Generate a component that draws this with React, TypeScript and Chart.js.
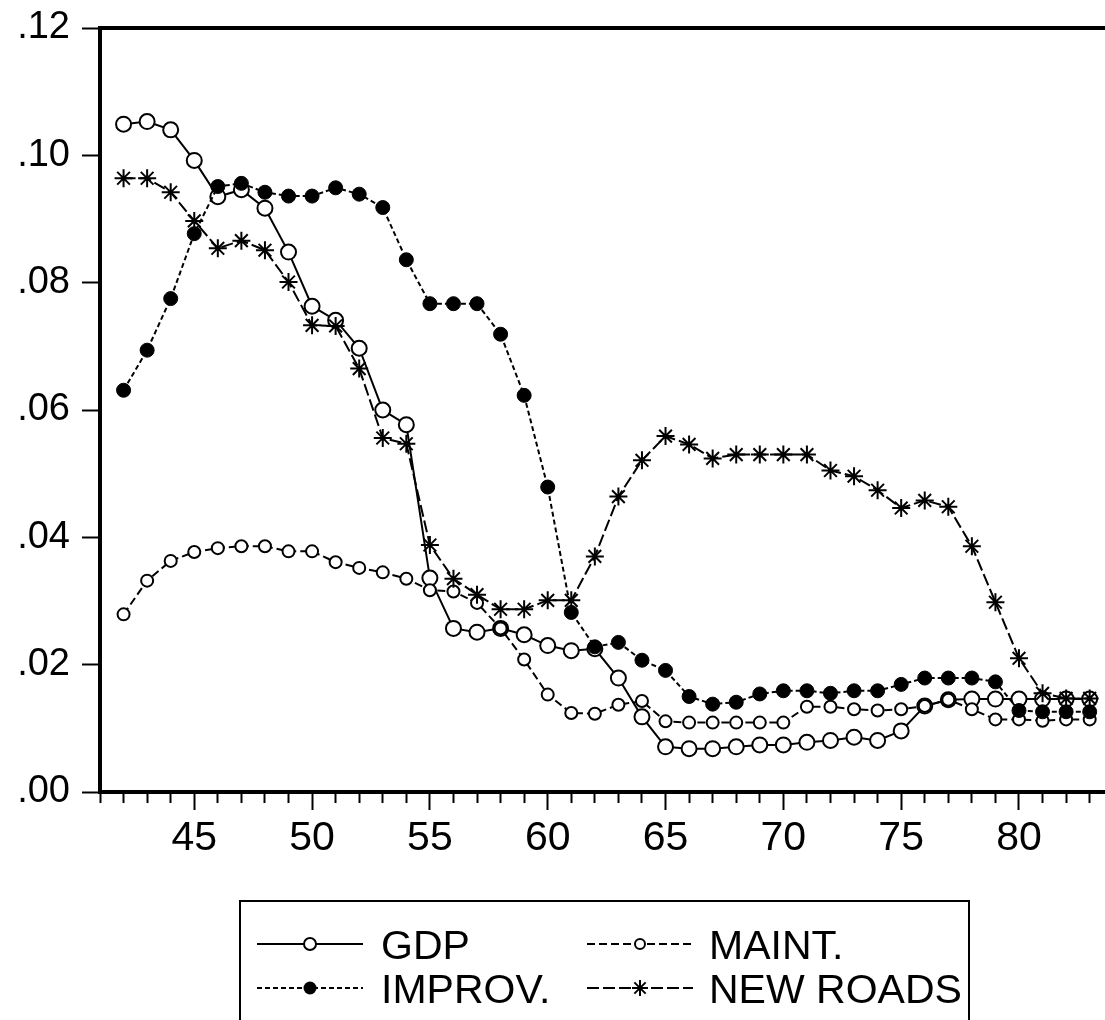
import React, { useEffect, useRef } from 'react';
import { Chart, registerables } from 'chart.js';

Chart.register(...registerables);

const years = [42, 43, 44, 45, 46, 47, 48, 49, 50, 51, 52, 53, 54, 55, 56, 57, 58, 59, 60, 61, 62, 63, 64, 65, 66, 67, 68, 69, 70, 71, 72, 73, 74, 75, 76, 77, 78, 79, 80, 81, 82, 83];

const gdp = [0.1049, 0.1053, 0.1040, 0.0992, 0.0935, 0.0946, 0.0917, 0.0848, 0.0763, 0.0741, 0.0697, 0.0600, 0.0577, 0.0336, 0.0257, 0.0251, 0.0257, 0.0247, 0.0230, 0.0222, 0.0225, 0.0179, 0.0118, 0.0071, 0.0068, 0.0068, 0.0071, 0.0074, 0.0074, 0.0078, 0.0081, 0.0086, 0.0081, 0.0096, 0.0135, 0.0145, 0.0146, 0.0146, 0.0146, 0.0146, 0.0146, 0.0146];

const maint = [0.0279, 0.0332, 0.0363, 0.0377, 0.0383, 0.0386, 0.0386, 0.0378, 0.0378, 0.0361, 0.0352, 0.0345, 0.0335, 0.0317, 0.0315, 0.0297, 0.0257, 0.0208, 0.0153, 0.0124, 0.0123, 0.0137, 0.0143, 0.0111, 0.0109, 0.0109, 0.0109, 0.0109, 0.0109, 0.0134, 0.0134, 0.0130, 0.0128, 0.0130, 0.0135, 0.0145, 0.0130, 0.0114, 0.0114, 0.0112, 0.0114, 0.0114];

const improv = [0.0631, 0.0694, 0.0775, 0.0877, 0.0951, 0.0956, 0.0942, 0.0936, 0.0936, 0.0949, 0.0939, 0.0918, 0.0836, 0.0767, 0.0767, 0.0767, 0.0719, 0.0623, 0.0479, 0.0282, 0.0228, 0.0235, 0.0207, 0.0191, 0.0150, 0.0138, 0.0141, 0.0154, 0.0159, 0.0159, 0.0155, 0.0159, 0.0159, 0.0169, 0.0179, 0.0179, 0.0179, 0.0173, 0.0128, 0.0126, 0.0126, 0.0126];

const newRoads = [0.0964, 0.0964, 0.0942, 0.0897, 0.0854, 0.0866, 0.0851, 0.0801, 0.0733, 0.0732, 0.0665, 0.0556, 0.0547, 0.0388, 0.0335, 0.0310, 0.0287, 0.0287, 0.0301, 0.0301, 0.0370, 0.0464, 0.0521, 0.0559, 0.0546, 0.0524, 0.0530, 0.0530, 0.0530, 0.0530, 0.0505, 0.0496, 0.0474, 0.0446, 0.0458, 0.0448, 0.0386, 0.0298, 0.0210, 0.0155, 0.0147, 0.0147];

const seriesLabels = ['GDP', 'MAINT.', 'IMPROV.', 'NEW ROADS'];

const FONT = "'Liberation Sans', Arial, Helvetica, sans-serif";

const DASH_MAINT = [8, 4];
const DASH_IMPROV = [5, 3];
const DASH_NEW = [12, 4];

const toPoints = (vals: number[]) => years.map((x, i) => ({ x, y: vals[i] }));

function drawMarker(ctx: CanvasRenderingContext2D, kind: string, x: number, y: number, r: number) {
  ctx.save();
  ctx.setLineDash([]);
  ctx.lineWidth = 2;
  ctx.strokeStyle = '#000';
  if (kind === 'open') {
    ctx.fillStyle = '#fff';
    ctx.beginPath();
    ctx.arc(x, y, r, 0, Math.PI * 2);
    ctx.fill();
    ctx.stroke();
  } else if (kind === 'filled') {
    ctx.fillStyle = '#000';
    ctx.beginPath();
    ctx.arc(x, y, r, 0, Math.PI * 2);
    ctx.fill();
  } else {
    ctx.beginPath();
    for (let k = 0; k < 4; k++) {
      const a = (k * Math.PI) / 4;
      ctx.moveTo(x - Math.cos(a) * r, y - Math.sin(a) * r);
      ctx.lineTo(x + Math.cos(a) * r, y + Math.sin(a) * r);
    }
    ctx.stroke();
  }
  ctx.restore();
}

const framePlugin = {
  id: 'frameAndLegend',
  afterDraw(chart: any) {
    const ctx: CanvasRenderingContext2D = chart.ctx;
    const { left, right, top } = chart.chartArea;
    ctx.save();
    ctx.strokeStyle = '#000';
    ctx.lineWidth = 4;
    ctx.beginPath();
    ctx.moveTo(left - 2, top);
    ctx.lineTo(right, top);
    ctx.stroke();

    // legend box
    ctx.lineWidth = 2;
    ctx.strokeRect(240, 901, 729, 160);

    const rows = [
      { label: seriesLabels[0], dash: [] as number[], kind: 'open', r: 6, sx: 257, tx: 381, y: 944 },
      { label: seriesLabels[1], dash: DASH_MAINT, kind: 'open', r: 5, sx: 587, tx: 709, y: 944 },
      { label: seriesLabels[2], dash: DASH_IMPROV, kind: 'filled', r: 6.5, sx: 257, tx: 381, y: 988 },
      { label: seriesLabels[3], dash: DASH_NEW, kind: 'star', r: 8, sx: 587, tx: 709, y: 988 },
    ];
    ctx.font = `41px ${FONT}`;
    ctx.fillStyle = '#000';
    ctx.textBaseline = 'alphabetic';
    ctx.textAlign = 'left';
    rows.forEach((row) => {
      ctx.save();
      ctx.lineWidth = 2;
      ctx.setLineDash(row.dash);
      ctx.beginPath();
      ctx.moveTo(row.sx, row.y);
      ctx.lineTo(row.sx + 106, row.y);
      ctx.stroke();
      ctx.restore();
      drawMarker(ctx, row.kind, row.sx + 53, row.y, row.r);
      ctx.fillText(row.label, row.tx, row.y + 15);
    });
    ctx.restore();
  },
};

export default function App() {
  const canvasRef = useRef<HTMLCanvasElement | null>(null);

  useEffect(() => {
    if (!canvasRef.current) return;
    const chart = new Chart(canvasRef.current, {
      type: 'line',
      data: {
        datasets: [
          {
            label: seriesLabels[0],
            data: toPoints(gdp),
            borderColor: '#000',
            borderWidth: 2,
            pointStyle: 'circle',
            pointRadius: 7.5,
            pointBackgroundColor: '#fff',
            pointBorderColor: '#000',
            pointBorderWidth: 2,
            tension: 0,
            order: 3,
          },
          {
            label: seriesLabels[1],
            data: toPoints(maint),
            borderColor: '#000',
            borderWidth: 2,
            borderDash: DASH_MAINT,
            pointStyle: 'circle',
            pointRadius: 6,
            pointBackgroundColor: '#fff',
            pointBorderColor: '#000',
            pointBorderWidth: 2,
            tension: 0,
            order: 2,
          },
          {
            label: seriesLabels[2],
            data: toPoints(improv),
            borderColor: '#000',
            borderWidth: 2,
            borderDash: DASH_IMPROV,
            pointStyle: 'circle',
            pointRadius: 7,
            pointBackgroundColor: '#000',
            pointBorderColor: '#000',
            pointBorderWidth: 1,
            tension: 0,
            order: 1,
          },
          {
            label: seriesLabels[3],
            data: toPoints(newRoads),
            borderColor: '#000',
            borderWidth: 2,
            borderDash: DASH_NEW,
            pointStyle: 'star',
            pointRadius: 9,
            pointBackgroundColor: '#000',
            pointBorderColor: '#000',
            pointBorderWidth: 2,
            tension: 0,
            order: 0,
          },
        ],
      },
      options: {
        animation: false,
        responsive: false,
        devicePixelRatio: 1,
        layout: { autoPadding: false, padding: { top: 28, left: 0, right: 0, bottom: 0 } },
        plugins: {
          legend: { display: false },
          tooltip: { enabled: false },
        },
        events: [],
        scales: {
          x: {
            type: 'linear',
            min: 41,
            max: 83.65,
            afterFit: (s: any) => {
              s.height = 228;
              s.paddingLeft = 0;
              s.paddingRight = 0;
            },
            border: { display: true, width: 4, color: '#000' },
            grid: {
              drawOnChartArea: false,
              drawTicks: true,
              tickLength: 18,
              tickWidth: 2,
              tickColor: '#000',
              tickBorderDash: (c: any) => (c.tick && c.tick.value % 5 === 0 ? [] : [9, 100]),
            } as any,
            ticks: {
              stepSize: 1,
              autoSkip: false,
              maxRotation: 0,
              minRotation: 0,
              includeBounds: false,
              padding: 4,
              color: '#000',
              font: { family: FONT, size: 41 },
              callback: (v: any) => (Number(v) % 5 === 0 ? String(v) : ''),
            },
          },
          y: {
            type: 'linear',
            min: 0,
            max: 0.12,
            afterFit: (s: any) => {
              s.width = 100;
              s.paddingTop = 0;
              s.paddingBottom = 0;
            },
            border: { display: true, width: 4, color: '#000' },
            grid: {
              drawOnChartArea: false,
              drawTicks: true,
              tickLength: 18,
              tickWidth: 2,
              tickColor: '#000',
            },
            ticks: {
              stepSize: 0.02,
              padding: 12,
              color: '#000',
              font: { family: FONT, size: 38 },
              callback: (v: any) => Number(v).toFixed(2).replace(/^0/, ''),
            },
          },
        },
      },
      plugins: [framePlugin],
    });
    return () => chart.destroy();
  }, []);

  return (
    <div style={{ position: 'absolute', left: 0, top: 0, width: 1105, height: 1020, background: '#fff', overflow: 'hidden' }}>
      <canvas ref={canvasRef} width={1105} height={1020} style={{ display: 'block' }} />
    </div>
  );
}
